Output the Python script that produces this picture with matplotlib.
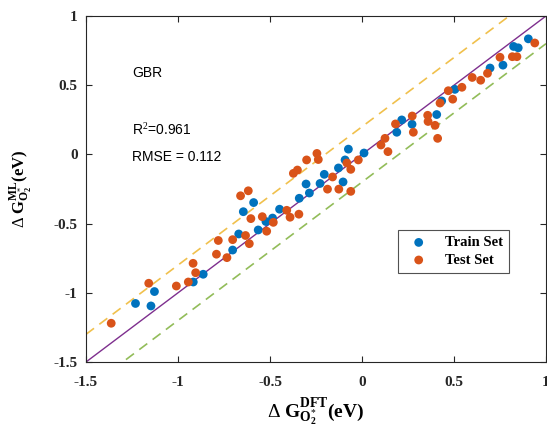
import matplotlib
matplotlib.use("Agg")
import matplotlib.pyplot as plt
import numpy as np

plt.rcParams['mathtext.fontset'] = 'custom'
plt.rcParams['mathtext.rm'] = 'Liberation Serif'
plt.rcParams['mathtext.bf'] = 'Liberation Serif:bold'
plt.rcParams['mathtext.it'] = 'Liberation Serif:italic'

train_x = [-1.231, -1.128, -1.147, -0.917, -0.863, -0.703, -0.670, -0.645, -0.589, -0.564,
           -0.522, -0.486, -0.448, -0.341, -0.304, -0.286, -0.228, -0.205, -0.128, -0.103,
           -0.092, -0.074, 0.011, 0.189, 0.216, 0.272, 0.406, 0.433, 0.505, 0.696,
           0.766, 0.824, 0.849, 0.904]
train_y = [-1.077, -0.991, -1.095, -0.922, -0.866, -0.691, -0.575, -0.414, -0.348, -0.546,
           -0.485, -0.460, -0.396, -0.317, -0.214, -0.279, -0.210, -0.144, -0.098, -0.199,
           -0.040, 0.038, 0.010, 0.160, 0.249, 0.218, 0.288, 0.386, 0.470, 0.624,
           0.645, 0.780, 0.770, 0.835]

test_x = [-1.363, -1.159, -1.009, -0.944, -0.918, -0.904, -0.791, -0.781, -0.734, -0.703,
          -0.633, -0.6125, -0.660, -0.618, -0.604, -0.542, -0.518, -0.482, -0.409, -0.391,
          -0.343, -0.373, -0.351, -0.301, -0.245, -0.2375, -0.1875, -0.160, -0.126, -0.061,
          -0.082, -0.061, -0.020, 0.103, 0.125, 0.141, 0.182, 0.273, 0.279, 0.357,
          0.359, 0.397, 0.411, 0.424, 0.469, 0.493, 0.543, 0.599, 0.645, 0.682,
          0.750, 0.817, 0.842, 0.939]
test_y = [-1.220, -0.931, -0.951, -0.922, -0.787, -0.855, -0.721, -0.622, -0.746, -0.616,
          -0.586, -0.645, -0.299, -0.263, -0.464, -0.450, -0.555, -0.491, -0.404, -0.454,
          -0.432, -0.137, -0.113, -0.040, 0.007, -0.037, -0.251, -0.163, -0.251, -0.267,
          -0.062, -0.108, -0.040, 0.068, 0.116, 0.020, 0.220, 0.2775, 0.160, 0.2825,
          0.238, 0.210, 0.116, 0.371, 0.460, 0.399, 0.485, 0.556, 0.536, 0.586,
          0.702, 0.706, 0.706, 0.805]

x_ticks = [-1.5, -1, -0.5, 0, 0.5, 1]
y_ticks = [-1.5, -1, -0.5, 0, 0.5, 1]
x_tick_labels = ['-1.5', '-1', '-0.5', '0', '0.5', '1']
y_tick_labels = ['-1.5', '-1', '-0.5', '0', '0.5', '1']
band = 0.2
lims = [-1.5, 1.0]

fig = plt.figure(figsize=(5.47, 4.30), dpi=100)
ax = fig.add_axes([86/547, 68/430, 460/547, 346/430])

line = np.array(lims)
ax.plot(line, line + band, linestyle=(0, (6, 4)), color='#EDB120', lw=1.2, alpha=0.8, zorder=1)
ax.plot(line, line - band, linestyle=(0, (6, 4)), color='#77AC30', lw=1.2, alpha=0.8, zorder=1)
ax.plot(line, line, color='#7E2F8E', lw=1.0, zorder=1)

ax.scatter(train_x, train_y, s=40, color='#0072BD', edgecolors='none', label='Train Set', zorder=3)
ax.scatter(test_x, test_y, s=40, color='#D95319', edgecolors='none', label='Test Set', zorder=3)

ax.set_xlim(lims)
ax.set_ylim(lims)
ax.set_xticks(x_ticks)
ax.set_yticks(y_ticks)
ax.set_xticklabels(x_tick_labels, fontfamily='Liberation Serif', fontweight='bold', fontsize=11)
ax.set_yticklabels(y_tick_labels, fontfamily='Liberation Serif', fontweight='bold', fontsize=11)
ax.tick_params(direction='in', top=True, right=True, length=4, width=0.8, colors='#262626')
ax.tick_params(axis='x', pad=10)
ax.tick_params(axis='y', pad=6)
for sp in ax.spines.values():
    sp.set_linewidth(0.8)
    sp.set_color('#262626')

ax.set_xlabel(r'$\Delta\ \mathbf{G}_{\mathbf{O}_{\mathbf{2}}^{*}}^{\mathbf{DFT}}$(eV)',
              fontfamily='Liberation Serif', fontweight='bold', fontsize=14, labelpad=5)
ax.set_ylabel(r'$\Delta\ \mathbf{G}_{\mathbf{O}_{\mathbf{2}}^{*}}^{\mathbf{ML}}$(eV)',
              fontfamily='Liberation Serif', fontweight='bold', fontsize=12, labelpad=14)

ax.text(-1.25, 0.588, 'GBR', fontfamily='Liberation Sans', fontsize=10, va='center', ha='left')
ax.text(-1.25, 0.176, r'R$^2$=0.961', fontfamily='Liberation Sans', fontsize=10, va='center', ha='left')
ax.text(-1.25, -0.019, 'RMSE = 0.112', fontfamily='Liberation Sans', fontsize=10, va='center', ha='left')

leg = ax.legend(loc='upper left', bbox_to_anchor=(0.663, 0.402), frameon=True, fancybox=False,
                edgecolor='#262626', prop={'family': 'Liberation Serif', 'weight': 'bold', 'size': 10.5},
                handletextpad=0.8, borderpad=0.4, labelspacing=0.3, markerscale=1.0)
leg.get_frame().set_linewidth(0.8)

fig.savefig('out.png', dpi=100)
